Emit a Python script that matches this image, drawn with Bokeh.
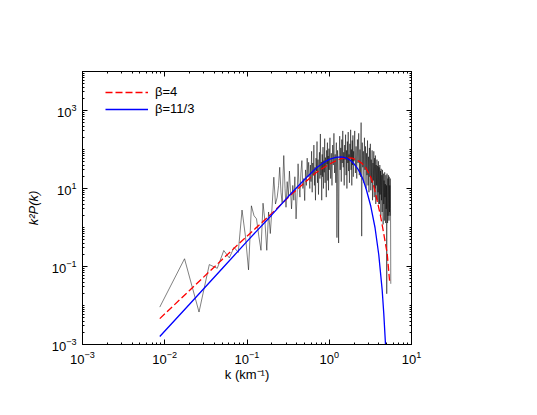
from bokeh.plotting import figure
from bokeh.models import (FixedTicker, LogAxis, LogTickFormatter, Legend, LegendItem, Range1d)
from bokeh.embed import file_html
from bokeh.resources import INLINE

k_obs_1 = [0.0087, 0.0174, 0.0261, 0.0348, 0.0435, 0.0522, 0.0609, 0.0696, 0.0783, 0.087,
           0.0957, 0.1044, 0.1131, 0.1218, 0.1305, 0.1392, 0.1479, 0.1566]
p_obs_1 = [0.0091, 0.158, 0.0068, 0.112, 0.090, 0.257, 0.166, 0.31, 0.23, 2.8,
           0.6, 0.082, 3.6, 2.0, 1.67, 0.6, 0.26, 4.2]

k_obs_2 = [0.165, 0.174, 0.183, 0.192, 0.201, 0.212, 0.222, 0.233, 0.242, 0.250,
           0.259, 0.268, 0.275, 0.280, 0.290, 0.298, 0.308, 0.318, 0.328, 0.338,
           0.348, 0.360, 0.371, 0.382, 0.395, 0.408, 0.418, 0.427, 0.440, 0.452,
           0.465, 0.478, 0.490, 0.503, 0.515, 0.527, 0.539, 0.550, 0.562, 0.575]
p_obs_2 = [1.5, 0.26, 2.5, 0.7, 3.0, 19.5, 4.0, 6.0, 12, 35,
           8, 4.1, 25, 70, 10, 3.3, 15, 6, 28, 9,
           3, 12, 5, 20, 1.66, 8, 43, 14, 6, 25,
           52, 10, 18, 4.9, 30, 12, 60, 20, 47, 15]

k_obs_3 = [0.58, 0.59, 0.60, 0.61, 0.62, 0.63, 0.64, 0.65, 0.66, 0.67,
           0.68, 0.69, 0.70, 0.71, 0.72, 0.73, 0.74, 0.75, 0.76, 0.77,
           0.78, 0.79, 0.80, 0.81, 0.82, 0.83, 0.84, 0.85, 0.86, 0.87,
           0.88, 0.89, 0.90, 0.91, 0.92, 0.93, 0.94, 0.95, 0.96, 0.97,
           0.98, 0.99, 1.00]
p_obs_3 = [10, 40, 15, 90, 8, 45, 22, 130, 12, 35,
           5, 60, 28, 160, 14, 55, 7, 38, 85, 18,
           250, 22, 48, 5, 75, 20, 115, 10, 52, 26,
           190, 14, 62, 32, 6, 95, 42, 150, 16, 68,
           9, 105, 30]

k_obs_4 = [1.02, 1.04, 1.06, 1.08, 1.10, 1.12, 1.14, 1.16, 1.18, 1.20,
           1.22, 1.24, 1.26, 1.28, 1.30, 1.32, 1.34, 1.36, 1.38, 1.40,
           1.42, 1.44, 1.46, 1.48, 1.50, 1.52, 1.54, 1.56, 1.58, 1.60,
           1.62, 1.64, 1.66, 1.68, 1.70, 1.72, 1.74, 1.76, 1.78, 1.80,
           1.82, 1.84, 1.86, 1.88, 1.90, 1.92, 1.94, 1.96, 1.98, 2.00]
p_obs_4 = [200, 18, 80, 12, 130, 40, 260, 25, 75, 14,
           150, 0.55, 95, 20, 0.4, 60, 220, 30, 110, 15,
           180, 45, 300, 35, 85, 12, 130, 55, 240, 22,
           95, 10, 160, 45, 280, 28, 75, 14, 140, 60,
           320, 30, 100, 12, 170, 40, 230, 20, 90, 50]

k_obs_5 = [2.04, 2.08, 2.12, 2.16, 2.20, 2.24, 2.28, 2.32, 2.36, 2.40,
           2.44, 2.48, 2.52, 2.56, 2.60, 2.64, 2.68, 2.72, 2.76, 2.80,
           2.84, 2.88, 2.92, 2.96, 3.00, 3.04, 3.08, 3.12, 3.16, 3.20,
           3.24, 3.28, 3.32, 3.36, 3.40, 3.44, 3.48, 3.52, 3.56, 3.60,
           3.64, 3.68, 3.72, 3.76, 3.80, 3.84, 3.88, 3.92, 3.96, 4.00]
p_obs_5 = [300, 25, 120, 18, 180, 45, 260, 22, 100, 20,
           490, 0.6, 150, 35, 90, 14, 200, 30, 120, 10,
           80, 22, 170, 12, 65, 8, 110, 20, 140, 9,
           55, 14, 95, 5, 45, 16, 90, 6, 60, 10,
           70, 4, 40, 12, 55, 5, 38, 8, 50, 4]

k_obs_6 = [4.04, 4.08, 4.12, 4.16, 4.20, 4.24, 4.28, 4.32, 4.36, 4.40,
           4.44, 4.48, 4.52, 4.56, 4.60, 4.64, 4.68, 4.72, 4.76, 4.80,
           4.84, 4.88, 4.92, 4.96, 5.00, 5.04, 5.08, 5.12, 5.16, 5.20,
           5.24, 5.28, 5.32, 5.36, 5.40, 5.44, 5.48, 5.52, 5.56, 5.60]
p_obs_6 = [35, 4, 40, 7, 28, 2, 32, 5, 22, 2.5,
           30, 8, 1.2, 24, 4, 16, 1.5, 26, 6, 13,
           1.3, 22, 3, 12, 0.02, 24, 3, 1.3, 18, 2,
           22, 4, 1.5, 20, 2.5, 12, 2, 18, 3, 0.036]

# ---- model beta = 4 (red dashed) ----
k_beta4 = [0.0087, 0.02, 0.05, 0.1, 0.2, 0.35, 0.5, 0.7, 0.85, 1.0,
           1.2, 1.4, 1.65, 1.9, 2.2, 2.5, 2.8, 3.2, 3.5, 3.8,
           4.2, 4.6, 5.07, 5.45]
p_beta4 = [0.0046, 0.0243, 0.152, 0.6, 2.3, 7.2, 14, 26, 34, 42,
           51, 58, 62, 60, 53, 44, 33, 19.5, 11, 5.2,
           2.0, 0.69, 0.21, 0.036]

# ---- model beta = 11/3 (blue solid) ----
k_beta113 = [0.0087, 0.02, 0.05, 0.1, 0.2, 0.35, 0.5, 0.7, 0.85, 1.0,
             1.2, 1.4, 1.6, 1.8, 2.0, 2.2, 2.4, 2.6, 2.8, 3.2,
             3.6, 4.0, 4.4, 4.6, 4.83]
p_beta113 = [0.0016, 0.0108, 0.089, 0.44, 2.1, 7.8, 17, 34, 46, 56,
             63, 65, 61, 53, 43, 33, 24, 16, 10, 3.5,
             1.0, 0.2, 0.025, 0.0063, 0.001]

legend_labels = ["β=4", "β=11/3"]
x_label = "k (km⁻¹)"
y_label = "k²P(k)"

x_major = [1e-3, 1e-2, 1e-1, 1e0, 1e1]
x_minor = [m * 10.0 ** e for e in range(-3, 1) for m in range(2, 10)]
y_major = [1e-3, 1e-1, 1e1, 1e3]
y_minor = [m * 10.0 ** e for e in range(-3, 4) for m in range(1, 10)] + [1e4]

FONT = "Liberation Sans"

p = figure(x_axis_type="log", y_axis_type="log",
           x_range=Range1d(1e-3, 1e1), y_range=Range1d(1e-3, 1e4),
           frame_width=329, frame_height=273,
           min_border_left=82, min_border_right=116,
           min_border_top=71, min_border_bottom=62,
           output_backend="svg", toolbar_location=None)
p.grid.visible = False
p.outline_line_color = "black"
p.outline_line_width = 1
p.background_fill_color = "white"
p.border_fill_color = "white"

k_obs = k_obs_1 + k_obs_2 + k_obs_3 + k_obs_4 + k_obs_5 + k_obs_6
p_obs = p_obs_1 + p_obs_2 + p_obs_3 + p_obs_4 + p_obs_5 + p_obs_6
p.line(k_obs, p_obs, line_color="black", line_width=0.5, line_alpha=1.0)
r_red = p.line(k_beta4, p_beta4, line_color="#ff0000", line_width=1.3, line_dash="7 3")
r_blue = p.line(k_beta113, p_beta113, line_color="#0000ff", line_width=1.3)


def style_axis(ax, major, minor, show_labels):
    ax.ticker = FixedTicker(ticks=major, minor_ticks=minor)
    ax.formatter = LogTickFormatter()
    ax.major_tick_in = 5
    ax.major_tick_out = 0
    ax.minor_tick_in = 2
    ax.minor_tick_out = 0
    ax.axis_line_color = "black"
    ax.major_tick_line_color = "black"
    ax.minor_tick_line_color = "black"
    ax.major_label_text_font = FONT
    ax.major_label_text_font_size = "13px" if show_labels else "0px"
    ax.major_label_text_color = "black" if show_labels else None
    ax.major_label_standoff = 6


style_axis(p.xaxis[0], x_major, x_minor, True)
style_axis(p.yaxis[0], y_major, y_minor, True)
p.yaxis[0].axis_label = y_label
p.yaxis[0].axis_label_text_font = FONT
p.yaxis[0].axis_label_text_font_size = "13px"
p.yaxis[0].axis_label_text_font_style = "italic"
p.yaxis[0].axis_label_text_color = "black"
p.yaxis[0].axis_label_standoff = 8
p.xaxis[0].axis_label = x_label
p.xaxis[0].axis_label_text_font = FONT
p.xaxis[0].axis_label_text_font_size = "13px"
p.xaxis[0].axis_label_text_font_style = "normal"
p.xaxis[0].axis_label_text_color = "black"
p.xaxis[0].axis_label_standoff = 0

top_axis = LogAxis()
style_axis(top_axis, x_major, x_minor, False)
p.add_layout(top_axis, "above")
right_axis = LogAxis()
style_axis(right_axis, y_major, y_minor, False)
p.add_layout(right_axis, "right")

legend = Legend(items=[LegendItem(label=legend_labels[0], renderers=[r_red]),
                       LegendItem(label=legend_labels[1], renderers=[r_blue])],
                location=(23, 228), padding=0, margin=0, spacing=2,
                glyph_width=43, glyph_height=12, label_height=12, label_standoff=7,
                label_text_font=FONT, label_text_font_size="13px",
                label_text_color="black",
                border_line_alpha=0, background_fill_alpha=0)
p.add_layout(legend)

open("out.html", "w").write(file_html(p, INLINE))
